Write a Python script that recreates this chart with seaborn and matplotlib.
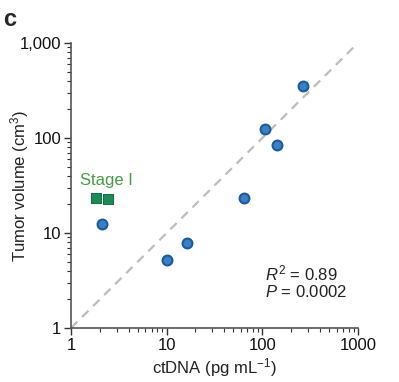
import matplotlib
matplotlib.use("Agg")
import matplotlib.pyplot as plt
import seaborn as sns
import pandas as pd
from matplotlib.ticker import LogLocator, NullFormatter

sns.set_style("ticks")
plt.rcParams['font.family'] = ['Liberation Sans', 'DejaVu Sans']
plt.rcParams['mathtext.fontset'] = 'custom'
plt.rcParams['mathtext.rm'] = 'Liberation Sans'
plt.rcParams['mathtext.it'] = 'Liberation Sans:italic'

# Data
ctdna_blue = [2.1, 10.1, 16.3, 64, 106, 142, 266]
volume_blue = [12.4, 5.2, 7.85, 23.4, 124, 84, 353]
ctdna_stage1 = [1.82, 2.44]
volume_stage1 = [23.4, 22.8]
x_ticks = [1, 10, 100, 1000]
x_tick_labels = ["1", "10", "100", "1000"]
y_ticks = [1, 10, 100, 1000]
y_tick_labels = ["1", "10", "100", "1,000"]

df_blue = pd.DataFrame({"ctDNA": ctdna_blue, "volume": volume_blue})
df_green = pd.DataFrame({"ctDNA": ctdna_stage1, "volume": volume_stage1})

fig = plt.figure(figsize=(3.99, 3.82), dpi=100)
ax = fig.add_axes([0.178, 0.1414, 0.719, 0.746])

ax.plot([1, 1000], [1, 1000], ls=(0, (4, 3)), color="#bdbdbd", lw=1.6, zorder=1)

sns.scatterplot(data=df_blue, x="ctDNA", y="volume", ax=ax, marker="o", s=50,
                color="#3b7fc4", edgecolor="#1d5a9c", linewidth=1.5, zorder=3)
sns.scatterplot(data=df_green, x="ctDNA", y="volume", ax=ax, marker="s", s=42,
                color="#1f8a55", edgecolor="#17704a", linewidth=0.8, zorder=3)

ax.set_xscale("log")
ax.set_yscale("log")
ax.set_xlim(1, 1000)
ax.set_ylim(1, 1000)

fs = 12
ax.set_xticks(x_ticks)
ax.set_xticklabels(x_tick_labels, fontsize=fs)
ax.set_yticks(y_ticks)
ax.set_yticklabels(y_tick_labels, fontsize=fs)
ax.xaxis.set_minor_locator(LogLocator(base=10, subs=range(2, 10)))
ax.yaxis.set_minor_locator(LogLocator(base=10, subs=range(2, 10)))
ax.xaxis.set_minor_formatter(NullFormatter())
ax.yaxis.set_minor_formatter(NullFormatter())
ax.tick_params(which="major", length=5, width=1, color="#333333", pad=2,
               labelcolor="#111111")
ax.tick_params(which="minor", length=3, width=0.8, color="#333333")

for s in ["top", "right"]:
    ax.spines[s].set_visible(False)
for s in ["left", "bottom"]:
    ax.spines[s].set_color("#555555")
    ax.spines[s].set_linewidth(1.2)

ax.set_xlabel("ctDNA (pg mL$^{-1}$)", fontsize=fs, color="#222222", va="center")
ax.set_ylabel("Tumor volume (cm$^{3}$)", fontsize=fs, color="#222222", va="center")
ax.xaxis.set_label_coords(0.5, -0.14)
ax.yaxis.set_label_coords(-0.178, 0.5)

ax.text(1.24, 36, "Stage I", color="#4a9a48", fontsize=fs, ha="left", va="center")
ax.text(0.676, 0.193, "$\\it{R}^2$ = 0.89", transform=ax.transAxes, fontsize=fs,
        ha="left", va="center", color="#222222")
ax.text(0.676, 0.126, "$\\it{P}$ = 0.0002", transform=ax.transAxes, fontsize=fs,
        ha="left", va="center", color="#222222")

fig.text(0.008, 0.95, "c", fontsize=17, fontweight="bold", ha="left", va="center")

fig.savefig("out.png", dpi=100)
